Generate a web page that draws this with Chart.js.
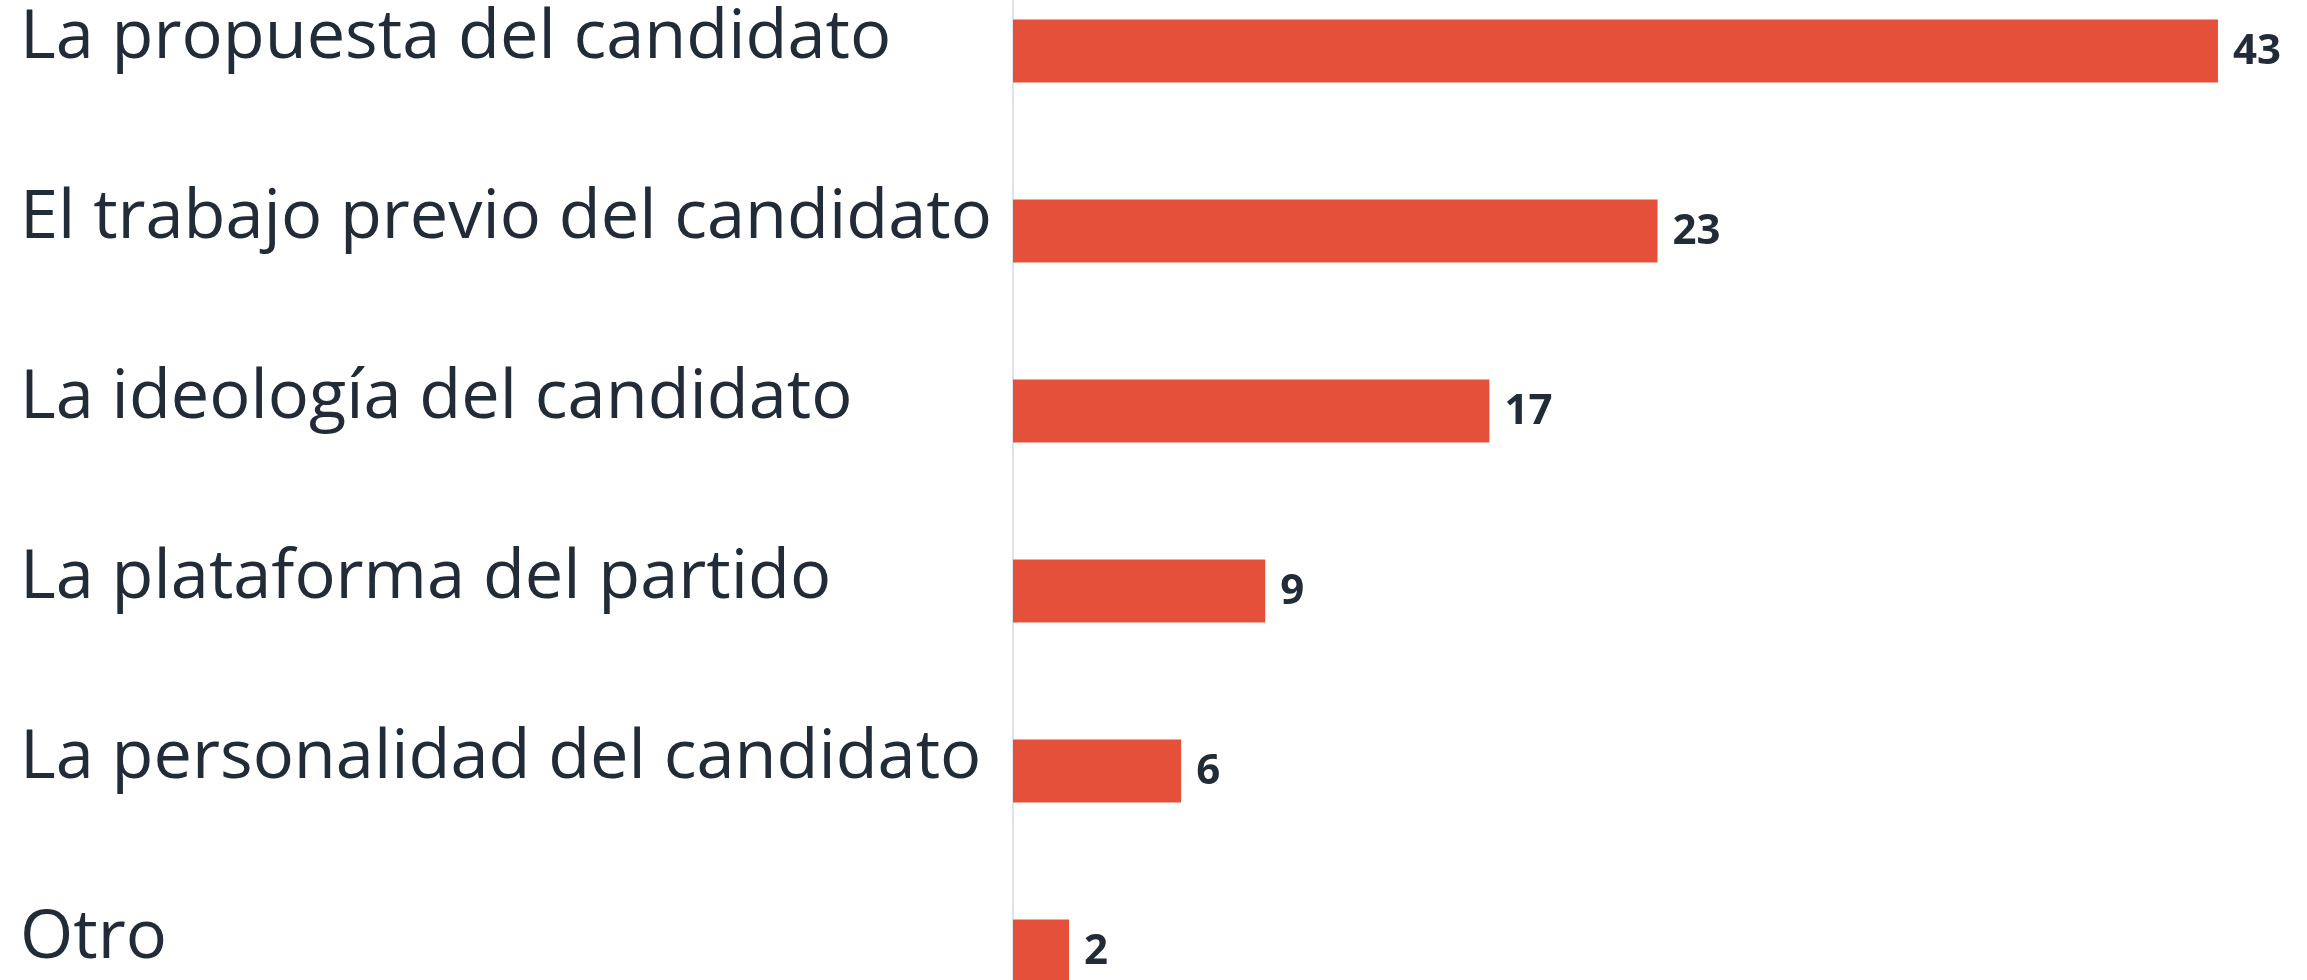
<!DOCTYPE html>
<html>
<head>
<meta charset="utf-8">
<script src="https://cdn.jsdelivr.net/npm/chart.js@4/dist/chart.umd.min.js"></script>
<style>
  html, body { margin: 0; padding: 0; background: #fff; overflow: hidden; }
  #chart { position: absolute; left: 0; top: -39px; }
</style>
</head>
<body>
<canvas id="chart" width="2307" height="1080"></canvas>
<script>
const categories = [
  "La propuesta del candidato",
  "El trabajo previo del candidato",
  "La ideología del candidato",
  "La plataforma del partido",
  "La personalidad del candidato",
  "Otro"
];
const values = [43, 23, 17, 9, 6, 2];

const barColor = "#e5503a";
const textColor = "#222b38";

// value labels at the end of each bar
const valueLabels = {
  id: "valueLabels",
  afterDatasetsDraw(chart) {
    const ctx = chart.ctx;
    const meta = chart.getDatasetMeta(0);
    ctx.save();
    ctx.font = "bold 42px 'Open Sans'";
    ctx.fillStyle = textColor;
    ctx.textAlign = "left";
    ctx.textBaseline = "middle";
    meta.data.forEach((bar, i) => {
      ctx.fillText(String(values[i]), bar.x + 15, bar.y + 1);
    });
    ctx.restore();
  }
};

new Chart(document.getElementById("chart"), {
  type: "bar",
  data: {
    labels: categories,
    datasets: [{
      data: values,
      backgroundColor: barColor,
      borderWidth: 0,
      categoryPercentage: 1,
      barPercentage: 0.35
    }]
  },
  options: {
    indexAxis: "y",
    responsive: false,
    animation: false,
    layout: { padding: { left: 20, right: 33, top: 0, bottom: 0 } },
    plugins: {
      legend: { display: false },
      tooltip: { enabled: false }
    },
    scales: {
      x: {
        display: false,
        min: 0,
        max: 45
      },
      y: {
        grid: { display: false, drawTicks: false },
        border: { display: true, color: "#dfe4ea", width: 2 },
        ticks: {
          crossAlign: "far",
          labelOffset: -13,
          padding: 0,
          color: textColor,
          font: { family: "'Open Sans'", size: 68.5 }
        },
        afterFit(scale) {
          scale.width = 993;
          // labels may hang outside the plot, don't reserve room for them
          scale.paddingTop = 0;
          scale.paddingBottom = 0;
        }
      }
    }
  },
  plugins: [valueLabels]
});
</script>
</body>
</html>
